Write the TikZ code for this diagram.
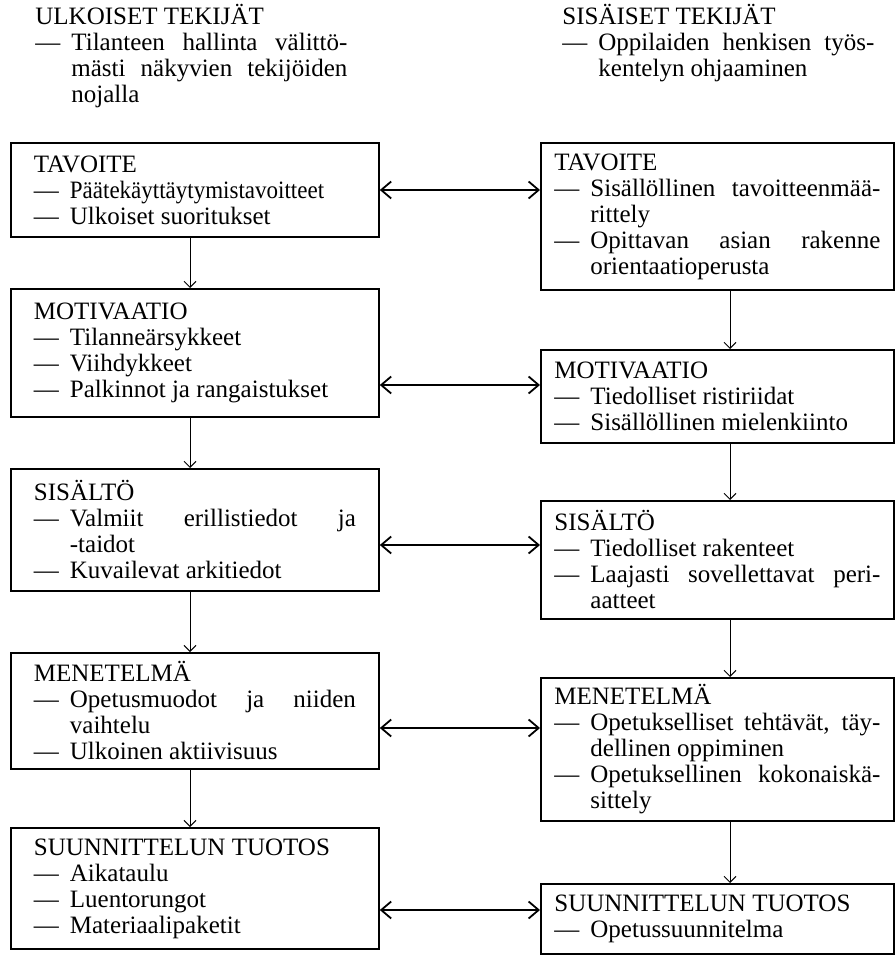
\documentclass[tikz,border=0pt]{standalone}
\usepackage{fontspec}
\setmainfont{Liberation Serif}
\usepackage{tikz}
\usetikzlibrary{arrows.meta}

\newcommand{\boxfont}{\fontsize{12.5}{13}\selectfont}
\newlength{\itmw}
\setlength{\itmw}{18pt}
\newcommand{\itm}[1]{\par\hangindent=\itmw\hangafter=1\noindent\makebox[\itmw][l]{—}#1\par}

\begin{document}
\begin{tikzpicture}[x=0.5pt, y=-0.5pt]
\tikzstyle{head} = [anchor=north west, inner sep=0pt, text width=156pt, align=justify, font=\boxfont]
\tikzstyle{factor} = [rectangle, draw=black, line width=0.9pt, anchor=north west, inner ysep=2pt, align=justify, font=\boxfont]
\tikzstyle{outer} = [factor, text width=161pt, inner xsep=11.5pt]
\tikzstyle{inner} = [factor, text width=163pt, inner xsep=6.75pt]
\tikzstyle{down} = [line width=0.5pt, -{Straight Barb[length=3pt, width=6pt]}]
\tikzstyle{link} = [line width=0.9pt, {Straight Barb[length=5pt, width=8.5pt]}-{Straight Barb[length=5pt, width=8.5pt]}]

\useasboundingbox (0,0) rectangle (895,956);

\node[head] (ulk) at (35,4) {\noindent ULKOISET TEKIJÄT\itm{Tilanteen hallinta välittö-\linebreak mästi näkyvien tekijöiden\linebreak nojalla}};
\node[head] (sis) at (562,4) {\noindent SISÄISET TEKIJÄT\itm{Oppilaiden henkisen työs-\linebreak kentelyn ohjaaminen}};

\node[outer, minimum height=47pt] (ltav) at (10,142) {\noindent TAVOITE\itm{\scalebox{0.92}[1]{Päätekäyttäytymistavoitteet}}\itm{Ulkoiset suoritukset}};
\node[outer, minimum height=64pt] (lmot) at (10,288) {\noindent MOTIVAATIO\itm{Tilanneärsykkeet}\itm{Viihdykkeet}\itm{Palkinnot ja rangaistukset}};
\node[outer, minimum height=61pt] (lsis) at (10,468) {\noindent SISÄLTÖ\itm{Valmiit erillistiedot ja\linebreak -taidot}\itm{Kuvailevat arkitiedot}};
\node[outer, minimum height=58pt] (lmen) at (10,652) {\noindent MENETELMÄ\itm{Opetusmuodot ja niiden\linebreak vaihtelu}\itm{Ulkoinen aktiivisuus}};
\node[outer, minimum height=60.5pt] (ltuo) at (10,827) {\noindent SUUNNITTELUN TUOTOS\itm{Aikataulu}\itm{Luentorungot}\itm{Materiaalipaketit}};

\node[inner, minimum height=73.5pt] (rtav) at (540,142) {\noindent TAVOITE\itm{Sisällöllinen tavoitteenmää-\linebreak rittely}\itm{Opittavan asian rakenne\linebreak orientaatioperusta}};
\node[inner, minimum height=46.5pt] (rmot) at (540,349) {\noindent MOTIVAATIO\itm{Tiedolliset ristiriidat}\itm{Sisällöllinen mielenkiinto}};
\node[inner, minimum height=59pt] (rsis) at (540,500) {\noindent SISÄLTÖ\itm{Tiedolliset rakenteet}\itm{Laajasti sovellettavat peri-\linebreak aatteet}};
\node[inner, minimum height=71.5pt] (rmen) at (540,677) {\noindent MENETELMÄ\itm{Opetukselliset tehtävät, täy-\linebreak dellinen oppiminen}\itm{Opetuksellinen kokonaiskä-\linebreak sittely}};
\node[inner, minimum height=35pt] (rtuo) at (540,883) {\noindent SUUNNITTELUN TUOTOS\itm{Opetussuunnitelma}};

\coordinate (lx) at (190,0);
\coordinate (rx) at (730,0);
\coordinate (y1) at (0,190);
\coordinate (y2) at (0,385);
\coordinate (y3) at (0,545);
\coordinate (y4) at (0,728);
\coordinate (y5) at (0,910);

\draw[down] (ltav.south -| lx) -- (lmot.north -| lx);
\draw[down] (lmot.south -| lx) -- (lsis.north -| lx);
\draw[down] (lsis.south -| lx) -- (lmen.north -| lx);
\draw[down] (lmen.south -| lx) -- (ltuo.north -| lx);
\draw[down] (rtav.south -| rx) -- (rmot.north -| rx);
\draw[down] (rmot.south -| rx) -- (rsis.north -| rx);
\draw[down] (rsis.south -| rx) -- (rmen.north -| rx);
\draw[down] (rmen.south -| rx) -- (rtuo.north -| rx);

\draw[link] (ltav.east |- y1) -- (rtav.west |- y1);
\draw[link] (lmot.east |- y2) -- (rmot.west |- y2);
\draw[link] (lsis.east |- y3) -- (rsis.west |- y3);
\draw[link] (lmen.east |- y4) -- (rmen.west |- y4);
\draw[link] (ltuo.east |- y5) -- (rtuo.west |- y5);
\end{tikzpicture}
\end{document}
